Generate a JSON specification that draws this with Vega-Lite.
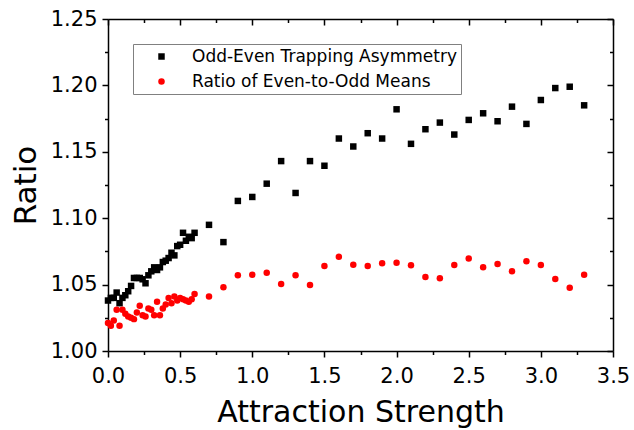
{
  "$schema": "https://vega.github.io/schema/vega-lite/v6.json",
  "width": 505,
  "height": 332,
  "autosize": "none",
  "padding": {"left": 108, "top": 19, "right": 21, "bottom": 79},
  "background": "white",
  "config": {
    "view": {"stroke": null},
    "axis": {
      "grid": false,
      "domainColor": "black",
      "domainWidth": 1.5,
      "tickColor": "black",
      "tickWidth": 1.5,
      "labelFont": "DejaVu Sans",
      "labelFontSize": 21,
      "labelColor": "black",
      "titleFont": "DejaVu Sans",
      "titleColor": "black",
      "titleFontWeight": "normal"
    }
  },
  "data": {
    "values": [
      {"x": 0.00, "y": 1.038, "s": "Odd-Even Trapping Asymmetry"},
      {"x": 0.02, "y": 1.040, "s": "Odd-Even Trapping Asymmetry"},
      {"x": 0.04, "y": 1.040, "s": "Odd-Even Trapping Asymmetry"},
      {"x": 0.06, "y": 1.044, "s": "Odd-Even Trapping Asymmetry"},
      {"x": 0.08, "y": 1.036, "s": "Odd-Even Trapping Asymmetry"},
      {"x": 0.10, "y": 1.040, "s": "Odd-Even Trapping Asymmetry"},
      {"x": 0.12, "y": 1.042, "s": "Odd-Even Trapping Asymmetry"},
      {"x": 0.14, "y": 1.045, "s": "Odd-Even Trapping Asymmetry"},
      {"x": 0.16, "y": 1.049, "s": "Odd-Even Trapping Asymmetry"},
      {"x": 0.18, "y": 1.055, "s": "Odd-Even Trapping Asymmetry"},
      {"x": 0.20, "y": 1.055, "s": "Odd-Even Trapping Asymmetry"},
      {"x": 0.22, "y": 1.055, "s": "Odd-Even Trapping Asymmetry"},
      {"x": 0.24, "y": 1.054, "s": "Odd-Even Trapping Asymmetry"},
      {"x": 0.26, "y": 1.051, "s": "Odd-Even Trapping Asymmetry"},
      {"x": 0.28, "y": 1.057, "s": "Odd-Even Trapping Asymmetry"},
      {"x": 0.30, "y": 1.060, "s": "Odd-Even Trapping Asymmetry"},
      {"x": 0.32, "y": 1.063, "s": "Odd-Even Trapping Asymmetry"},
      {"x": 0.34, "y": 1.061, "s": "Odd-Even Trapping Asymmetry"},
      {"x": 0.36, "y": 1.063, "s": "Odd-Even Trapping Asymmetry"},
      {"x": 0.38, "y": 1.067, "s": "Odd-Even Trapping Asymmetry"},
      {"x": 0.40, "y": 1.068, "s": "Odd-Even Trapping Asymmetry"},
      {"x": 0.42, "y": 1.070, "s": "Odd-Even Trapping Asymmetry"},
      {"x": 0.44, "y": 1.074, "s": "Odd-Even Trapping Asymmetry"},
      {"x": 0.46, "y": 1.072, "s": "Odd-Even Trapping Asymmetry"},
      {"x": 0.48, "y": 1.079, "s": "Odd-Even Trapping Asymmetry"},
      {"x": 0.50, "y": 1.080, "s": "Odd-Even Trapping Asymmetry"},
      {"x": 0.52, "y": 1.089, "s": "Odd-Even Trapping Asymmetry"},
      {"x": 0.54, "y": 1.083, "s": "Odd-Even Trapping Asymmetry"},
      {"x": 0.56, "y": 1.086, "s": "Odd-Even Trapping Asymmetry"},
      {"x": 0.58, "y": 1.085, "s": "Odd-Even Trapping Asymmetry"},
      {"x": 0.60, "y": 1.089, "s": "Odd-Even Trapping Asymmetry"},
      {"x": 0.7, "y": 1.095, "s": "Odd-Even Trapping Asymmetry"},
      {"x": 0.8, "y": 1.082, "s": "Odd-Even Trapping Asymmetry"},
      {"x": 0.9, "y": 1.113, "s": "Odd-Even Trapping Asymmetry"},
      {"x": 1.0, "y": 1.116, "s": "Odd-Even Trapping Asymmetry"},
      {"x": 1.1, "y": 1.126, "s": "Odd-Even Trapping Asymmetry"},
      {"x": 1.2, "y": 1.143, "s": "Odd-Even Trapping Asymmetry"},
      {"x": 1.3, "y": 1.119, "s": "Odd-Even Trapping Asymmetry"},
      {"x": 1.4, "y": 1.143, "s": "Odd-Even Trapping Asymmetry"},
      {"x": 1.5, "y": 1.1395, "s": "Odd-Even Trapping Asymmetry"},
      {"x": 1.6, "y": 1.160, "s": "Odd-Even Trapping Asymmetry"},
      {"x": 1.7, "y": 1.154, "s": "Odd-Even Trapping Asymmetry"},
      {"x": 1.8, "y": 1.164, "s": "Odd-Even Trapping Asymmetry"},
      {"x": 1.9, "y": 1.160, "s": "Odd-Even Trapping Asymmetry"},
      {"x": 2.0, "y": 1.182, "s": "Odd-Even Trapping Asymmetry"},
      {"x": 2.1, "y": 1.156, "s": "Odd-Even Trapping Asymmetry"},
      {"x": 2.2, "y": 1.167, "s": "Odd-Even Trapping Asymmetry"},
      {"x": 2.3, "y": 1.172, "s": "Odd-Even Trapping Asymmetry"},
      {"x": 2.4, "y": 1.163, "s": "Odd-Even Trapping Asymmetry"},
      {"x": 2.5, "y": 1.174, "s": "Odd-Even Trapping Asymmetry"},
      {"x": 2.6, "y": 1.179, "s": "Odd-Even Trapping Asymmetry"},
      {"x": 2.7, "y": 1.173, "s": "Odd-Even Trapping Asymmetry"},
      {"x": 2.8, "y": 1.184, "s": "Odd-Even Trapping Asymmetry"},
      {"x": 2.9, "y": 1.171, "s": "Odd-Even Trapping Asymmetry"},
      {"x": 3.0, "y": 1.189, "s": "Odd-Even Trapping Asymmetry"},
      {"x": 3.1, "y": 1.198, "s": "Odd-Even Trapping Asymmetry"},
      {"x": 3.2, "y": 1.199, "s": "Odd-Even Trapping Asymmetry"},
      {"x": 3.3, "y": 1.185, "s": "Odd-Even Trapping Asymmetry"},
      {"x": 0.00, "y": 1.021, "s": "Ratio of Even-to-Odd Means"},
      {"x": 0.02, "y": 1.019, "s": "Ratio of Even-to-Odd Means"},
      {"x": 0.04, "y": 1.023, "s": "Ratio of Even-to-Odd Means"},
      {"x": 0.06, "y": 1.031, "s": "Ratio of Even-to-Odd Means"},
      {"x": 0.08, "y": 1.019, "s": "Ratio of Even-to-Odd Means"},
      {"x": 0.10, "y": 1.031, "s": "Ratio of Even-to-Odd Means"},
      {"x": 0.12, "y": 1.028, "s": "Ratio of Even-to-Odd Means"},
      {"x": 0.14, "y": 1.026, "s": "Ratio of Even-to-Odd Means"},
      {"x": 0.16, "y": 1.025, "s": "Ratio of Even-to-Odd Means"},
      {"x": 0.18, "y": 1.024, "s": "Ratio of Even-to-Odd Means"},
      {"x": 0.20, "y": 1.029, "s": "Ratio of Even-to-Odd Means"},
      {"x": 0.22, "y": 1.034, "s": "Ratio of Even-to-Odd Means"},
      {"x": 0.24, "y": 1.027, "s": "Ratio of Even-to-Odd Means"},
      {"x": 0.26, "y": 1.026, "s": "Ratio of Even-to-Odd Means"},
      {"x": 0.28, "y": 1.032, "s": "Ratio of Even-to-Odd Means"},
      {"x": 0.30, "y": 1.031, "s": "Ratio of Even-to-Odd Means"},
      {"x": 0.32, "y": 1.027, "s": "Ratio of Even-to-Odd Means"},
      {"x": 0.34, "y": 1.037, "s": "Ratio of Even-to-Odd Means"},
      {"x": 0.36, "y": 1.027, "s": "Ratio of Even-to-Odd Means"},
      {"x": 0.38, "y": 1.032, "s": "Ratio of Even-to-Odd Means"},
      {"x": 0.40, "y": 1.035, "s": "Ratio of Even-to-Odd Means"},
      {"x": 0.42, "y": 1.040, "s": "Ratio of Even-to-Odd Means"},
      {"x": 0.44, "y": 1.036, "s": "Ratio of Even-to-Odd Means"},
      {"x": 0.46, "y": 1.041, "s": "Ratio of Even-to-Odd Means"},
      {"x": 0.48, "y": 1.038, "s": "Ratio of Even-to-Odd Means"},
      {"x": 0.50, "y": 1.040, "s": "Ratio of Even-to-Odd Means"},
      {"x": 0.52, "y": 1.039, "s": "Ratio of Even-to-Odd Means"},
      {"x": 0.54, "y": 1.038, "s": "Ratio of Even-to-Odd Means"},
      {"x": 0.56, "y": 1.037, "s": "Ratio of Even-to-Odd Means"},
      {"x": 0.58, "y": 1.039, "s": "Ratio of Even-to-Odd Means"},
      {"x": 0.60, "y": 1.043, "s": "Ratio of Even-to-Odd Means"},
      {"x": 0.7, "y": 1.041, "s": "Ratio of Even-to-Odd Means"},
      {"x": 0.8, "y": 1.048, "s": "Ratio of Even-to-Odd Means"},
      {"x": 0.9, "y": 1.057, "s": "Ratio of Even-to-Odd Means"},
      {"x": 1.0, "y": 1.0575, "s": "Ratio of Even-to-Odd Means"},
      {"x": 1.1, "y": 1.059, "s": "Ratio of Even-to-Odd Means"},
      {"x": 1.2, "y": 1.0505, "s": "Ratio of Even-to-Odd Means"},
      {"x": 1.3, "y": 1.057, "s": "Ratio of Even-to-Odd Means"},
      {"x": 1.4, "y": 1.0497, "s": "Ratio of Even-to-Odd Means"},
      {"x": 1.5, "y": 1.064, "s": "Ratio of Even-to-Odd Means"},
      {"x": 1.6, "y": 1.071, "s": "Ratio of Even-to-Odd Means"},
      {"x": 1.7, "y": 1.065, "s": "Ratio of Even-to-Odd Means"},
      {"x": 1.8, "y": 1.064, "s": "Ratio of Even-to-Odd Means"},
      {"x": 1.9, "y": 1.066, "s": "Ratio of Even-to-Odd Means"},
      {"x": 2.0, "y": 1.0665, "s": "Ratio of Even-to-Odd Means"},
      {"x": 2.1, "y": 1.0645, "s": "Ratio of Even-to-Odd Means"},
      {"x": 2.2, "y": 1.0557, "s": "Ratio of Even-to-Odd Means"},
      {"x": 2.3, "y": 1.0547, "s": "Ratio of Even-to-Odd Means"},
      {"x": 2.4, "y": 1.0647, "s": "Ratio of Even-to-Odd Means"},
      {"x": 2.5, "y": 1.0697, "s": "Ratio of Even-to-Odd Means"},
      {"x": 2.6, "y": 1.063, "s": "Ratio of Even-to-Odd Means"},
      {"x": 2.7, "y": 1.0655, "s": "Ratio of Even-to-Odd Means"},
      {"x": 2.8, "y": 1.060, "s": "Ratio of Even-to-Odd Means"},
      {"x": 2.9, "y": 1.0675, "s": "Ratio of Even-to-Odd Means"},
      {"x": 3.0, "y": 1.0647, "s": "Ratio of Even-to-Odd Means"},
      {"x": 3.1, "y": 1.0542, "s": "Ratio of Even-to-Odd Means"},
      {"x": 3.2, "y": 1.0477, "s": "Ratio of Even-to-Odd Means"},
      {"x": 3.3, "y": 1.0575, "s": "Ratio of Even-to-Odd Means"}
    ]
  },
  "layer": [
    {
      "mark": {"type": "point", "filled": true, "opacity": 1, "size": 42, "strokeWidth": 0},
      "encoding": {
        "x": {
          "field": "x", "type": "quantitative",
          "scale": {"domain": [0, 3.5], "nice": false, "zero": false},
          "axis": {
            "orient": "bottom",
            "title": "Attraction Strength",
            "titleFontSize": 30,
            "titleX": 252.5,
            "titleY": 70,
            "titleBaseline": "alphabetic",
            "values": [0, 0.25, 0.5, 0.75, 1, 1.25, 1.5, 1.75, 2, 2.25, 2.5, 2.75, 3, 3.25, 3.5],
            "labelExpr": "round(datum.value*100) % 50 == 0 ? format(datum.value, '.1f') : ''",
            "labelPadding": 8,
            "labelFlush": false,
            "labelOverlap": false,
            "tickSize": {"condition": {"test": "round(datum.value*100) % 50 == 0", "value": 6}, "value": 3.5}
          }
        },
        "y": {
          "field": "y", "type": "quantitative",
          "scale": {"domain": [1.0, 1.25], "nice": false, "zero": false},
          "axis": {
            "orient": "left",
            "title": "Ratio",
            "titleFontSize": 31,
            "titleAngle": -90,
            "titleX": -73,
            "titleY": 166,
            "titleAlign": "center",
            "titleBaseline": "alphabetic",
            "values": [1.0, 1.025, 1.05, 1.075, 1.1, 1.125, 1.15, 1.175, 1.2, 1.225, 1.25],
            "labelExpr": "round(datum.value*1000) % 50 == 0 ? format(datum.value, '.2f') : ''",
            "labelPadding": 5,
            "labelFlush": false,
            "labelOverlap": false,
            "tickSize": {"condition": {"test": "round(datum.value*1000) % 50 == 0", "value": 6}, "value": 3.5}
          }
        },
        "color": {
          "field": "s", "type": "nominal",
          "scale": {"domain": ["Odd-Even Trapping Asymmetry", "Ratio of Even-to-Odd Means"], "range": ["#000000", "#ff0000"]},
          "legend": {
            "title": null,
            "orient": "none",
            "legendX": 25,
            "legendY": 25,
            "direction": "vertical",
            "strokeColor": "#808080",
            "fillColor": "white",
            "padding": 4,
            "symbolOffset": 16,
            "labelOffset": 22,
            "rowPadding": 7,
            "labelFont": "DejaVu Sans",
            "labelFontSize": 17,
            "labelColor": "black",
            "labelLimit": 400,
            "symbolSize": 42,
            "symbolStrokeWidth": 0,
            "symbolOpacity": 1
          }
        },
        "shape": {
          "field": "s", "type": "nominal",
          "scale": {"domain": ["Odd-Even Trapping Asymmetry", "Ratio of Even-to-Odd Means"], "range": ["square", "circle"]},
          "legend": {
            "title": null,
            "orient": "none",
            "legendX": 25,
            "legendY": 25,
            "direction": "vertical",
            "strokeColor": "#808080",
            "fillColor": "white",
            "padding": 4,
            "symbolOffset": 16,
            "labelOffset": 22,
            "rowPadding": 7,
            "labelFont": "DejaVu Sans",
            "labelFontSize": 17,
            "labelColor": "black",
            "labelLimit": 400,
            "symbolSize": 42,
            "symbolStrokeWidth": 0,
            "symbolOpacity": 1
          }
        }
      }
    },
    {
      "mark": {"type": "point", "opacity": 0},
      "encoding": {
        "x": {
          "field": "x", "type": "quantitative",
          "axis": {
            "orient": "top",
            "title": null,
            "labels": false,
            "values": [0, 0.25, 0.5, 0.75, 1, 1.25, 1.5, 1.75, 2, 2.25, 2.5, 2.75, 3, 3.25, 3.5],
            "tickSize": {"condition": {"test": "round(datum.value*100) % 50 == 0", "value": -6}, "value": -3.5}
          }
        },
        "y": {
          "field": "y", "type": "quantitative",
          "axis": {
            "orient": "right",
            "title": null,
            "labels": false,
            "values": [1.0, 1.025, 1.05, 1.075, 1.1, 1.125, 1.15, 1.175, 1.2, 1.225, 1.25],
            "tickSize": {"condition": {"test": "round(datum.value*1000) % 50 == 0", "value": -6}, "value": -3.5}
          }
        }
      }
    }
  ],
  "resolve": {"axis": {"x": "independent", "y": "independent"}}
}
